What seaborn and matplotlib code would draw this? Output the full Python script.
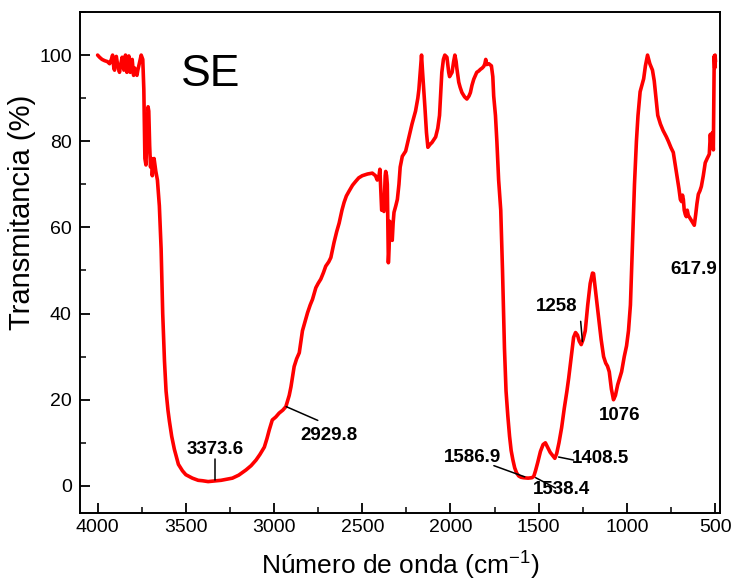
import matplotlib
matplotlib.use("Agg")
import matplotlib.pyplot as plt
import seaborn as sns
import pandas as pd
from matplotlib.ticker import MultipleLocator

# ---- data ----
wavenumber = [
    4000, 3989, 3975, 3960, 3945, 3932, 3922, 3915, 3908, 3904, 3898, 3894, 3886, 3876, 3868,
    3861, 3851, 3846, 3842, 3834, 3828, 3823, 3815, 3810, 3804, 3796, 3790, 3785, 3777, 3772,
    3766, 3758, 3753, 3744, 3738, 3732, 3726, 3720, 3714, 3710, 3705, 3700, 3695, 3690, 3684,
    3680, 3670, 3661, 3650, 3640, 3631, 3621, 3612, 3601, 3593, 3580, 3565, 3542, 3519, 3500,
    3463, 3430, 3406, 3373.6, 3350, 3300, 3236, 3200, 3159, 3130, 3102, 3080, 3055, 3040, 3027,
    3010, 2990, 2971, 2950, 2933, 2914, 2904, 2886, 2872, 2857, 2839, 2825, 2810, 2795, 2782,
    2763, 2750, 2735, 2720, 2707, 2690, 2678, 2660, 2645, 2631, 2615, 2603, 2590, 2575, 2555,
    2537, 2520, 2500, 2470, 2443, 2425, 2415, 2405, 2400, 2394, 2390, 2382, 2377, 2370, 2367,
    2362, 2358, 2352, 2348, 2344, 2337, 2330, 2325, 2320, 2310, 2301, 2292, 2285, 2273, 2254,
    2235, 2218, 2198, 2185, 2179, 2170, 2164, 2158, 2145, 2136, 2128, 2115, 2105, 2084, 2072,
    2062, 2049, 2040, 2032, 2020, 2010, 2005, 1998, 1991, 1982, 1975, 1968, 1964, 1953, 1945,
    1935, 1920, 1907, 1895, 1887, 1878, 1868, 1851, 1840, 1830, 1820, 1811, 1805, 1800, 1795,
    1783, 1768, 1760, 1755, 1745, 1737, 1727, 1715, 1705, 1694, 1685, 1675, 1665, 1656, 1646,
    1636, 1625, 1613, 1600, 1586.9, 1560, 1538.4, 1528, 1518, 1505, 1490, 1475, 1462, 1450, 1435,
    1420, 1408.5, 1398, 1385, 1370, 1355, 1340, 1330, 1315, 1302, 1291, 1280, 1270, 1259, 1248,
    1236, 1222, 1208, 1195, 1189, 1180, 1170, 1160, 1146, 1132, 1120, 1110, 1100, 1088, 1076,
    1065, 1052, 1030, 1015, 1002, 991, 980, 974, 967, 957, 946, 937, 925, 915, 905,
    895, 883, 870, 855, 845, 835, 825, 810, 795, 776, 765, 750, 737, 720, 705,
    697, 690, 685, 680, 675, 669, 663, 658, 652, 640, 630, 618, 610, 603, 595,
    586, 578, 567, 556, 545, 533, 527, 522, 515, 510, 507, 505, 502, 500, 498,
]
transmittance = [
    100, 99.5, 99, 98.7, 98.5, 98, 99, 100, 97, 96.5, 99, 99.7, 97.6, 96, 98,
    99.5, 96.5, 98, 100, 96, 98.5, 99.8, 96, 97.5, 99, 95.3, 97, 96.5, 95.3, 96.5,
    97.6, 99, 100, 99, 92, 76, 74.5, 82, 88, 87, 79, 74, 76, 72, 75,
    76, 73, 71, 65, 55, 40, 29, 22, 17.5, 15, 11.5, 8.5, 5, 3.5, 2.6,
    1.8, 1.3, 1.2, 1.0, 1.1, 1.3, 1.8, 2.5, 3.7, 4.7, 6, 7.3, 9, 11, 13,
    15.3, 16, 16.9, 17.6, 18.4, 21, 23, 27.7, 29.5, 30.9, 36, 38, 40.2, 42, 43.3,
    46, 47, 48, 49.5, 51, 52, 53, 56.5, 59, 61, 64, 65.8, 67.3, 68.4, 69.8,
    70.7, 71.5, 72, 72.4, 72.6, 72, 71, 72, 73.5, 68, 64, 64, 63.7, 72, 73,
    72, 70, 51.8, 55, 61.4, 59, 57, 61, 63.5, 65, 66.5, 70, 74, 76.5, 77.7,
    81, 84, 87, 90, 92, 97, 100, 96, 88, 82, 78.6, 79.3, 79.7, 81, 83,
    86, 96, 99, 100, 99.5, 96, 95, 95.5, 96, 98.5, 100, 98.5, 97, 93.7, 92.5,
    91.3, 90.3, 89.8, 90.5, 91.3, 93, 94.4, 96, 96.3, 96.7, 97, 97.4, 98, 99, 97.8,
    98, 97.5, 95, 90.5, 86, 80, 71, 64, 50, 32, 22, 16.3, 11.5, 8.2, 6,
    4.2, 3, 2.3, 2.0, 1.9, 1.8, 1.9, 2.2, 3.5, 5.5, 8, 9.6, 10, 9, 7.8,
    7, 6.4, 7.5, 10, 13.5, 18, 22, 25, 30, 34.5, 35.6, 35, 33.6, 32.8, 34,
    36, 42, 47, 49.4, 49.3, 46, 42.5, 39, 34, 30, 28.5, 27.8, 26.5, 22.5, 20,
    21, 23.5, 26.5, 30, 32.5, 36, 42, 49.5, 58, 70, 80, 86, 91.5, 93, 94.5,
    97.5, 100, 98, 96.5, 94, 90, 86, 84, 82.5, 81, 80, 78.5, 77.4, 73, 69,
    66.5, 66, 67.5, 66.5, 64, 63, 62.5, 64, 62.8, 62, 61.3, 60.5, 63, 65.5, 67.7,
    68.5, 69.5, 72, 75, 76, 77, 81.6, 78.5, 82, 78, 90, 99.8, 97, 100, 98.5,
]

peak_labels = ["3373.6", "2929.8", "1586.9", "1538.4", "1408.5", "1258", "1076", "617.9"]
x_ticks = [4000, 3500, 3000, 2500, 2000, 1500, 1000, 500]
y_ticks = [0, 20, 40, 60, 80, 100]

df = pd.DataFrame({"wavenumber": wavenumber, "T": transmittance})

sns.set_style("ticks")
plt.rcParams["font.family"] = ["Liberation Sans", "DejaVu Sans"]
plt.rcParams["mathtext.fontset"] = "custom"
plt.rcParams["mathtext.rm"] = "Liberation Sans"
plt.rcParams["mathtext.default"] = "regular"
for k in ["text.color", "axes.labelcolor", "xtick.color", "ytick.color", "axes.edgecolor"]:
    plt.rcParams[k] = "black"

fig = plt.figure(figsize=(7.37, 5.83), dpi=100)
ax = fig.add_axes([0.1085, 0.12, 0.8685, 0.8594])

sns.lineplot(data=df, x="wavenumber", y="T", sort=False, estimator=None,
             color="#ff0000", linewidth=2.6, ax=ax)

ax.set_xlim(4100, 472)
ax.set_ylim(-6.3, 110)
ax.set_xticks(x_ticks)
ax.set_yticks(y_ticks)
ax.xaxis.set_minor_locator(MultipleLocator(250))
ax.yaxis.set_minor_locator(MultipleLocator(10))
ax.tick_params(which="major", direction="in", length=7, width=1.3, labelsize=14,
               top=False, right=False)
ax.tick_params(axis="x", which="major", pad=4)
ax.tick_params(axis="y", which="major", pad=6)
ax.tick_params(which="minor", direction="in", length=4, width=1.1, top=False, right=False)
for s in ax.spines.values():
    s.set_linewidth(1.4)
    s.set_color("black")
    s.set_visible(True)

ax.set_xlabel("Número de onda (cm$^{-1}$)", fontsize=19, labelpad=10)
ax.set_ylabel("Transmitancia (%)", fontsize=21)
ax.yaxis.set_label_coords(-0.068, 0.6)

# sample name
ax.text(3530, 95.5, "SE", fontsize=32, ha="left", va="center")

# peak annotations: (label, text x, text y, line from, line to)
ann = [
    (peak_labels[0], 3333, 8.4, (3333, 6.3), (3333, 1.3)),
    (peak_labels[1], 2690, 11.6, (2931, 18.4), (2752, 15.2)),
    (peak_labels[2], 1873, 6.6, (1754, 4.7), (1579, 2.1)),
    (peak_labels[3], 1370, -0.9, (1517, 1.9), (1404, -0.5)),
    (peak_labels[4], 1150, 6.3, (1387, 6.7), (1302, 6.0)),
    (peak_labels[5], 1398, 41.6, (1262, 38.2), (1252, 33.5)),
    (peak_labels[6], 1042, 16.3, None, None),
    (peak_labels[7], 623, 50.2, None, None),
]
for lab, tx, ty, p0, p1 in ann:
    ax.text(tx, ty, lab, fontsize=13.5, fontweight="bold", ha="center", va="center")
    if p0 is not None:
        ax.plot([p0[0], p1[0]], [p0[1], p1[1]], color="black", linewidth=1.1)

fig.savefig("out.png", dpi=100)
